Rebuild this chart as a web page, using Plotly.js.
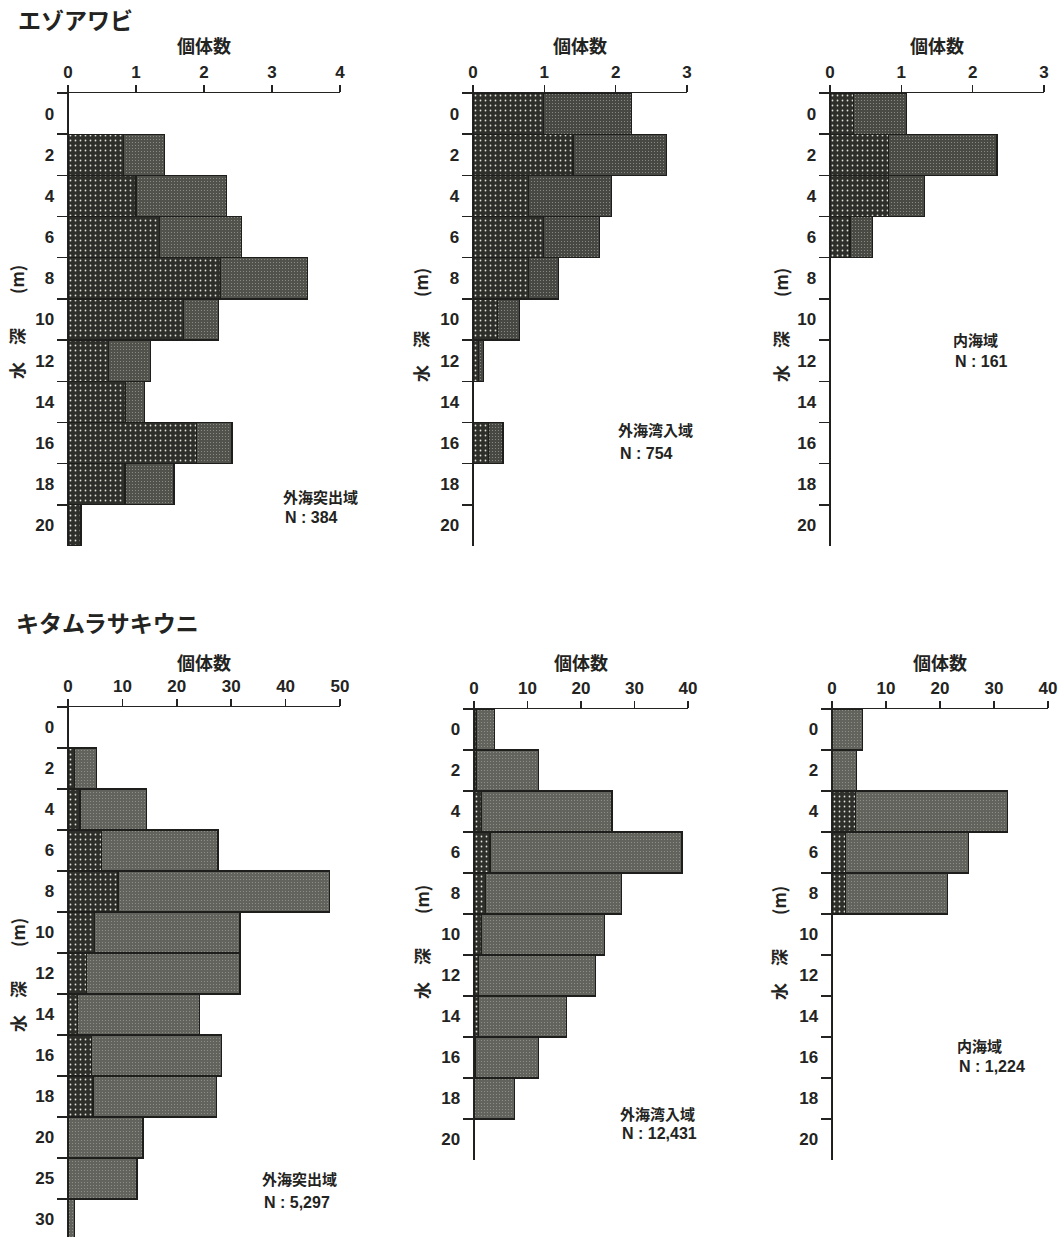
<!DOCTYPE html>
<html>
<head>
<meta charset="utf-8">
<script src="https://cdn.plot.ly/plotly-3.0.1.min.js"></script>
<style>
  html, body { margin: 0; padding: 0; background: #ffffff; }
  #chart { width: 1064px; height: 1237px; }
</style>
</head>
<body>
<div id="chart"></div>
<script>
// Depth classes (m)
const depthShallow = ["0", "2", "4", "6", "8", "10", "12", "14", "16", "18", "20"];
const depthDeep = ["0", "2", "4", "6", "8", "10", "12", "14", "16", "18", "20", "25", "30"];

// エゾアワビ — stippled segment and plain segment per depth class
const abaloneOuterDark  = [0, 0.82, 1.00, 1.35, 2.24, 1.70, 0.60, 0.85, 1.89, 0.84, 0.19];
const abaloneOuterPlain = [0, 0.60, 1.33, 1.20, 1.28, 0.51, 0.61, 0.28, 0.52, 0.72, 0];
const abaloneBayDark    = [0.99, 1.40, 0.78, 0.99, 0.78, 0.34, 0.08, 0, 0.22, 0, 0];
const abaloneBayPlain   = [1.23, 1.31, 1.16, 0.78, 0.42, 0.31, 0.07, 0, 0.20, 0, 0];
const abaloneInnerDark  = [0.33, 0.82, 0.82, 0.28, 0, 0, 0, 0, 0, 0, 0];
const abaloneInnerPlain = [0.74, 1.52, 0.50, 0.32, 0, 0, 0, 0, 0, 0, 0];

// キタムラサキウニ
const urchinOuterDark  = [0, 1.2, 2.2, 6.1, 9.2, 4.9, 3.4, 1.8, 4.3, 4.6, 0, 0, 0];
const urchinOuterPlain = [0, 4.0, 12.2, 21.5, 38.9, 26.7, 28.2, 22.4, 23.9, 22.7, 13.8, 12.7, 1.2];
const urchinBayDark    = [0.5, 0.5, 1.4, 3.0, 2.2, 1.4, 0.8, 0.8, 0.3, 0, 0];
const urchinBayPlain   = [3.3, 11.5, 24.4, 35.9, 25.4, 23.0, 21.9, 16.5, 11.7, 7.6, 0];
const urchinInnerDark  = [0, 0, 4.3, 2.5, 2.5, 0, 0, 0, 0, 0, 0];
const urchinInnerPlain = [5.7, 4.6, 28.2, 22.8, 18.9, 0, 0, 0, 0, 0, 0];

// Panel text
const speciesNames = ["エゾアワビ", "キタムラサキウニ"];
const areaNames = ["外海突出域", "外海湾入域", "内海域", "外海突出域", "外海湾入域", "内海域"];
const sampleSizes = ["N : 384", "N : 754", "N : 161", "N : 5,297", "N : 12,431", "N : 1,224"];
const countTitle = "個体数";
const depthTitle = "水　深　　(m)";

const W = 1064, H = 1237;
const px = v => v / W;
const py = v => 1 - v / H;

const ink = "#232321";
const tickFont = { family: "Liberation Sans, Arial, sans-serif", size: 17, color: ink, weight: "bold" };
const jpFont = (size) => ({ family: "Noto Sans CJK JP, sans-serif", size: size, color: ink, weight: "bold" });

// Panel frames: plot box in pixels, axis maximum, tick step
const panels = [
  { cats: depthShallow, dark: abaloneOuterDark, plain: abaloneOuterPlain, x0: 68,  x1: 340,  y0: 93,  y1: 546,  xmax: 4,  dtick: 1,  plainColor: "#52524d", ytitleX: 17,  ytitleY: 322, lab: [281, 496, 518] },
  { cats: depthShallow, dark: abaloneBayDark,   plain: abaloneBayPlain,   x0: 473, x1: 687,  y0: 93,  y1: 546,  xmax: 3,  dtick: 1,  plainColor: "#474743", ytitleX: 420, ytitleY: 325, lab: [616, 430, 453] },
  { cats: depthShallow, dark: abaloneInnerDark, plain: abaloneInnerPlain, x0: 830, x1: 1044, y0: 93,  y1: 546,  xmax: 3,  dtick: 1,  plainColor: "#4a4a45", ytitleX: 780, ytitleY: 325, lab: [951, 340, 362] },
  { cats: depthDeep,    dark: urchinOuterDark,  plain: urchinOuterPlain,  x0: 68,  x1: 340,  y0: 707, y1: 1237, xmax: 50, dtick: 10, plainColor: "#63635d", ytitleX: 17,  ytitleY: 975, lab: [260, 1178, 1202], cut: 0.07 },
  { cats: depthShallow, dark: urchinBayDark,    plain: urchinBayPlain,    x0: 474, x1: 688,  y0: 709, y1: 1160, xmax: 40, dtick: 10, plainColor: "#63635d", ytitleX: 421, ytitleY: 942, lab: [618, 1113, 1133] },
  { cats: depthShallow, dark: urchinInnerDark,  plain: urchinInnerPlain,  x0: 832, x1: 1048, y0: 709, y1: 1160, xmax: 40, dtick: 10, plainColor: "#63635d", ytitleX: 778, ytitleY: 943, lab: [955, 1045, 1066] }
];

const data = [];
const layout = {
  width: W, height: H,
  margin: { l: 0, r: 0, t: 0, b: 0 },
  paper_bgcolor: "#ffffff",
  plot_bgcolor: "rgba(0,0,0,0)",
  barmode: "stack",
  bargap: 0,
  showlegend: false,
  annotations: [],
  font: tickFont
};

panels.forEach((p, i) => {
  const k = i === 0 ? "" : String(i + 1);
  const xa = "x" + k, ya = "y" + k;
  const outline = { color: "#1e1e1c", width: 1.3 };

  data.push({
    type: "bar", orientation: "h", xaxis: xa, yaxis: ya,
    y: p.cats, x: p.dark,
    marker: {
      color: "#2e2e2b",
      line: outline,
      pattern: { shape: ".", bgcolor: "#2e2e2b", fgcolor: "#e2e2da", size: 5, solidity: 0.1 }
    },
    hoverinfo: "x+y"
  });
  data.push({
    type: "bar", orientation: "h", xaxis: xa, yaxis: ya,
    y: p.cats, x: p.plain,
    marker: {
      color: p.plainColor,
      line: outline,
      pattern: { shape: ".", bgcolor: p.plainColor, fgcolor: "#9a9a92", size: 3, solidity: 0.1 }
    },
    hoverinfo: "x+y"
  });

  const n = p.cats.length;
  layout["xaxis" + k] = {
    domain: [px(p.x0), px(p.x1)], anchor: ya, side: "top",
    range: [0, p.xmax], tick0: 0, dtick: p.dtick,
    ticks: "outside", ticklen: 7, tickwidth: 1.5, tickcolor: ink,
    showline: true, linewidth: 1.5, linecolor: ink,
    showgrid: false, zeroline: false, tickfont: tickFont, fixedrange: true
  };
  layout["yaxis" + k] = {
    domain: [py(p.y1), py(p.y0)], anchor: xa,
    type: "category", categoryorder: "array", categoryarray: p.cats,
    range: [n - 0.5 - (p.cut || 0), -0.5],
    tickson: "boundaries",
    ticks: "outside", ticklen: 10, tickwidth: 1.5, tickcolor: ink,
    ticklabelstandoff: 9,
    showline: true, linewidth: 1.5, linecolor: ink,
    showgrid: false, zeroline: false, tickfont: tickFont, fixedrange: true
  };

  // axis titles
  layout.annotations.push({
    xref: "paper", yref: "paper", x: px((p.x0 + p.x1) / 2), y: py(i < 3 ? 45 : 662),
    xanchor: "center", yanchor: "middle", showarrow: false,
    text: countTitle, font: jpFont(18)
  });
  layout.annotations.push({
    xref: "paper", yref: "paper", x: px(p.ytitleX), y: py(p.ytitleY),
    xanchor: "center", yanchor: "middle", showarrow: false, textangle: -90,
    text: depthTitle, font: jpFont(17)
  });
  // area name and sample size
  layout.annotations.push({
    xref: "paper", yref: "paper", x: px(p.lab[0]), y: py(p.lab[1]),
    xanchor: "left", yanchor: "middle", showarrow: false,
    text: areaNames[i], font: jpFont(15)
  });
  layout.annotations.push({
    xref: "paper", yref: "paper", x: px(p.lab[0] + 2), y: py(p.lab[2]),
    xanchor: "left", yanchor: "middle", showarrow: false,
    text: sampleSizes[i], font: { family: "Liberation Sans, Arial, sans-serif", size: 16, color: ink, weight: "bold" }
  });
});

// species headings
layout.annotations.push({
  xref: "paper", yref: "paper", x: px(16), y: py(19),
  xanchor: "left", yanchor: "middle", showarrow: false,
  text: speciesNames[0], font: jpFont(23)
});
layout.annotations.push({
  xref: "paper", yref: "paper", x: px(14), y: py(622),
  xanchor: "left", yanchor: "middle", showarrow: false,
  text: speciesNames[1], font: jpFont(23)
});

Plotly.newPlot("chart", data, layout, { displayModeBar: false, staticPlot: true });
</script>
</body>
</html>
